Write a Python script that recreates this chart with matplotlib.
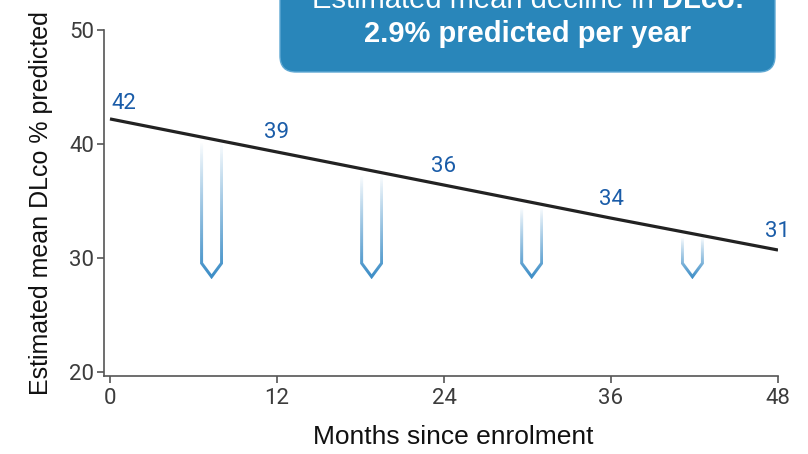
import numpy as np
import matplotlib
matplotlib.use("Agg")
import matplotlib.pyplot as plt
from matplotlib.patches import FancyBboxPatch, Polygon

# ---- data ----
months = [0, 12, 24, 36, 48]
dlco = [42.2, 39.3, 36.4, 33.5, 30.7]
value_labels = ["42", "39", "36", "34", "31"]
x_ticks = [0, 12, 24, 36, 48]
y_ticks = [20, 30, 40, 50]
arrow_x = [7.3, 18.8, 30.3, 41.85]
arrow_top = [40.1, 37.2, 34.4, 31.75]
arrow_tip = 28.36
box_line1_regular = "Estimated mean decline in "
box_line1_bold = "DLco:"
box_line2 = "2.9% predicted per year"
x_label = "Months since enrolment"
y_label = "Estimated mean DLco % predicted"

W, H = 808, 454
fig = plt.figure(figsize=(W / 100, H / 100), dpi=100)
ax = fig.add_axes([104 / W, 1 - 376 / H, (778 - 104) / W, (376 - 30) / H])

XLIM = (-0.43, 48)
YLIM = (19.65, 50)
ax.set_xlim(*XLIM)
ax.set_ylim(*YLIM)

spine_c = "#555555"
for s in ["top", "right"]:
    ax.spines[s].set_visible(False)
for s in ["left", "bottom"]:
    ax.spines[s].set_color(spine_c)
    ax.spines[s].set_linewidth(1.2)

ax.set_xticks(x_ticks)
ax.set_yticks(y_ticks)
tick_font = dict(family=["Roboto", "DejaVu Sans"], size=16, color="#3c3c3c")
ax.set_xticklabels([str(v) for v in x_ticks], **tick_font)
ax.set_yticklabels([str(v) for v in y_ticks], **tick_font)
ax.tick_params(axis="both", length=5, width=1.2, color=spine_c)
ax.tick_params(axis="x", pad=4)
ax.tick_params(axis="y", pad=2)

ax.set_xlabel(x_label, family=["Liberation Sans"], size=19, color="#111111")
ax.xaxis.set_label_coords((453 - 104) / (778 - 104), -(444 - 376) / (376 - 30))
ax.xaxis.label.set_va("baseline")
ax.set_ylabel(y_label, family=["Liberation Sans"], size=18, color="#111111", labelpad=12)

# gradient arrows: stroke outline computed in pixel space, filled with a gradient image
blue = np.array(matplotlib.colors.to_rgb("#3a8cc6"))
to_px = ax.transData
to_data = ax.transData.inverted()
half_w_px = 10.0
v_h_px = 13.5
stroke_px = 3.0

def stroke_outline(pts, w):
    pts = np.asarray(pts, float)
    n = len(pts)
    left, right = [], []
    for i in range(n):
        normals = []
        if i > 0:
            d = pts[i] - pts[i - 1]; d /= np.linalg.norm(d)
            normals.append(np.array([-d[1], d[0]]))
        if i < n - 1:
            d = pts[i + 1] - pts[i]; d /= np.linalg.norm(d)
            normals.append(np.array([-d[1], d[0]]))
        m = sum(normals); m /= np.linalg.norm(m)
        ln = (w / 2) / np.dot(m, normals[0])
        left.append(pts[i] + m * ln)
        right.append(pts[i] - m * ln)
    return np.vstack([left, right[::-1]])

for xa, yt in zip(arrow_x, arrow_top):
    cx, ty = to_px.transform((xa, yt))
    _, tipy = to_px.transform((xa, arrow_tip))
    vy = tipy + v_h_px  # display coords: y up
    poly_px = [(cx - half_w_px, ty), (cx - half_w_px, vy), (cx, tipy),
               (cx + half_w_px, vy), (cx + half_w_px, ty)]
    outline_px = stroke_outline(poly_px, stroke_px)
    outline_data = to_data.transform(outline_px)
    clip = Polygon(outline_data, closed=True, transform=ax.transData)
    ymin = outline_data[:, 1].min()
    ymax = outline_data[:, 1].max()
    xmin = outline_data[:, 0].min()
    xmax = outline_data[:, 0].max()
    nrow = 200
    frac = np.linspace(0, 1, nrow)  # row 0 = top
    img = np.zeros((nrow, 1, 4))
    img[:, 0, :3] = blue
    img[:, 0, 3] = np.clip(frac, 0, 1) ** 0.9
    im = ax.imshow(img, extent=(xmin, xmax, ymin, ymax), origin="upper",
                   aspect="auto", interpolation="bilinear", zorder=2)
    im.set_clip_path(clip)

ax.set_xlim(*XLIM)
ax.set_ylim(*YLIM)

# trend line
ax.plot(months, dlco, color="#222222", lw=2.3, zorder=3, solid_capstyle="butt")

for i, (m, v, lab) in enumerate(zip(months, dlco, value_labels)):
    dx = 14 if i == 0 else 0
    dy = 15 if i == 0 else 19
    ax.annotate(lab, (m, v), xytext=(dx, dy), textcoords="offset pixels",
                ha="center", va="center", family=["Roboto", "DejaVu Sans"],
                size=16, color="#1a5ca8", zorder=4)

# overlay for box
ov = fig.add_axes([0, 0, 1, 1], zorder=5)
ov.set_xlim(0, W)
ov.set_ylim(H, 0)
ov.axis("off")
ov.patch.set_alpha(0)
box = FancyBboxPatch((280, -40), 775 - 280, 72 + 40,
                     boxstyle="round,pad=0,rounding_size=16",
                     facecolor="#2986ba", edgecolor="#5fa8d3", lw=1.0)
ov.add_patch(box)

fig.canvas.draw()
r = fig.canvas.get_renderer()
t1a = ov.text(0, 8, box_line1_regular, family=["Liberation Sans"], size=21,
              color="white", ha="left", va="baseline")
t1b = ov.text(0, 8, box_line1_bold, family=["Liberation Sans"], size=21,
              weight="bold", color="white", ha="left", va="baseline")
wa = t1a.get_window_extent(r).width
wb = t1b.get_window_extent(r).width
start = 528 - (wa + wb) / 2
t1a.set_x(start)
t1b.set_x(start + wa)
ov.text(528, 42, box_line2, family=["Liberation Sans"], size=21, weight="bold",
        color="white", ha="center", va="baseline")

fig.savefig("out.png", dpi=100)
